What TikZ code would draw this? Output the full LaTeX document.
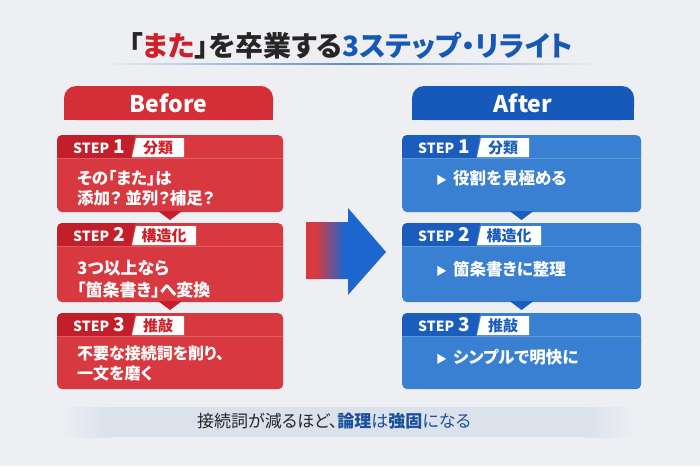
\documentclass[tikz,border=0pt]{standalone}
\usepackage{fontspec}
\setmainfont{Noto Sans CJK JP}[RawFeature=+palt]
\usetikzlibrary{shadings}
\definecolor{bg}{HTML}{EDEFF3}
\definecolor{redbody}{HTML}{D8383F}
\definecolor{redband}{HTML}{C21F2B}
\definecolor{redhead}{HTML}{D42F37}
\definecolor{bluebody}{HTML}{3A80D2}
\definecolor{blueband}{HTML}{1A5DBD}
\definecolor{bluehead}{HTML}{165AB9}
\definecolor{arrowblue}{HTML}{1E66CF}
\definecolor{titlered}{HTML}{D01F2A}
\definecolor{titleblue}{HTML}{1658B5}
\definecolor{inkdark}{HTML}{262626}
\definecolor{noteband}{HTML}{DBE2EC}
\definecolor{noteblue}{HTML}{1B4F9A}
\pgfdeclarehorizontalshading{redtoblue}{100bp}{color(0bp)=(redbody); color(31bp)=(redbody); color(49bp)=(arrowblue); color(100bp)=(arrowblue)}
\tikzset{
  headtab/.style={rounded corners=12pt, minimum width=209pt, minimum height=34pt, text=white, font=\fontsize{23}{23}\selectfont\bfseries},
  stepbox/.style={rounded corners=5pt, anchor=north west, inner sep=0pt},
  steplabel/.style={anchor=west, text=white, inner sep=0pt, font=\fontsize{14}{14}\selectfont\bfseries},
  tagtext/.style={inner sep=0pt, font=\fontsize{15}{15}\selectfont\bfseries},
  bodytext/.style={anchor=west, align=left, text=white, inner sep=0pt, font=\fontsize{16.5}{20}\selectfont\bfseries},
  pointtext/.style={anchor=west, text=white, inner sep=0pt, font=\fontsize{16.5}{16.5}\selectfont\bfseries}
}

\begin{document}
\begin{tikzpicture}[x=1pt,y=-1pt]
  \fill[bg] (0,0) rectangle (700,466);
  \useasboundingbox (0,0) rectangle (700,466);

  \node[font=\fontsize{28}{28}\selectfont\bfseries, text=inkdark] (title) at (351,46)
    {「\textcolor{titlered}{また}」を卒業する\textcolor{titleblue}{3ステップ・リライト}};
  \shade[left color=bg, right color=titleblue!70] (100,63) rectangle (350,64.2);
  \shade[left color=titleblue!70, right color=bg] (350,63) rectangle (600,64.2);

  \fill[redhead] (64,104) rectangle (273,120);
  \node[headtab, fill=redhead] (before) at (168.5,103) {Before};
  \fill[bluehead] (412,104) rectangle (634,120);
  \node[headtab, fill=bluehead, minimum width=222pt] (after) at (523,103) {After};

  \foreach \x/\bw/\fillc/\band/\ink/\col in {57/226/redbody/redband/titlered/b, 402/239/bluebody/blueband/blueband/a}
    \foreach \n/\ya/\yb/\tg/\tw in {1/135/212/分類/48, 2/223/302/構造化/60, 3/313/389/推敲/48} {
      \node[stepbox, fill=\fillc, minimum width=\bw pt, minimum height={(\yb-\ya)*1pt}] (\col\n) at (\x,\ya) {};
      \begin{scope}
        \clip[rounded corners=5pt] (\col\n.north west) rectangle (\col\n.south east);
        \fill[\band] (\col\n.north west) -- ++(78,0) -- ++(-4,23) -- ++(-74,0) -- cycle;
      \end{scope}
      \draw[white, opacity=.2] (\col\n.north west) ++(0,23) -- ++(\bw,0);
      \fill[white] (\col\n.north west) ++(75,22) -- ++(4,-19) -- ++(\tw,0) -- ++(0,19) -- cycle;
      \node[tagtext, text=\ink] (\col t\n) at ({\x+77+\tw/2},{\ya+12.5}) {\tg};
      \node[steplabel] (\col s\n) at ({\x+16},{\ya+12}) {STEP\hspace{4pt}{\fontsize{19}{19}\selectfont\n}};
      \ifnum\n<3
        \fill[\band] ({\x+\bw/2-12},{\yb-1}) -- ++(24,0) -- ++(-12,9) -- cycle;
      \fi
    }

  \node[bodytext] (bx1) at (77,188) {その「また」は\\添加？ 並列？補足？};
  \node[bodytext, font=\fontsize{17}{22}\selectfont\bfseries] (bx2) at (77,279) {3つ以上なら\\「箇条書き」へ変換};
  \node[bodytext, font=\fontsize{16}{20}\selectfont\bfseries] (bx3) at (77,363) {不要な接続詞を削り、\\一文を磨く};

  \node[pointtext] (ax1) at (436,178) {{\fontsize{11}{11}\selectfont ▶}\hspace{6pt}役割を見極める};
  \node[pointtext] (ax2) at (436,269) {{\fontsize{11}{11}\selectfont ▶}\hspace{6pt}箇条書きに整理};
  \node[pointtext] (ax3) at (436,357) {{\fontsize{11}{11}\selectfont ▶}\hspace{6pt}シンプルで明快に};

  \shade[shading=redtoblue] (306,222) -- (348,222) -- (348,208) -- (386,252) -- (348,295) -- (348,279) -- (306,279) -- cycle;

  \shade[left color=bg, right color=noteband] (58,407) rectangle (110,437);
  \fill[noteband] (110,407) rectangle (585,437);
  \shade[left color=noteband, right color=bg] (585,407) rectangle (637,437);
  \node[font=\fontsize{17}{17}\selectfont, text=inkdark] (note) at (334,421)
    {接続詞が減るほど、\textcolor{noteblue}{{\bfseries 論理}は{\bfseries 強固}になる}};
\end{tikzpicture}
\end{document}
